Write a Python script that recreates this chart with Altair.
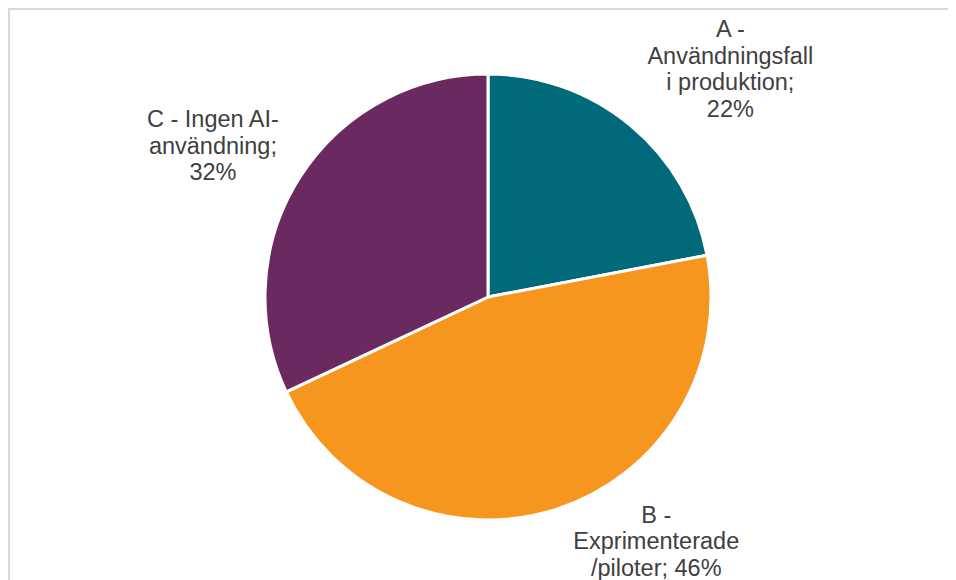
import altair as alt
import pandas as pd

categories = ["A - Användningsfall i produktion", "B - Exprimenterade /piloter", "C - Ingen AI-användning"]
values = [22, 46, 32]
label_texts = ["A -\nAnvändningsfall\ni produktion;\n22%",
               "B -\nExprimenterade\n/piloter; 46%",
               "C - Ingen AI-\nanvändning;\n32%"]
colors = ["#00697A", "#F7961E", "#6B2A5F"]

df = pd.DataFrame({"category": categories, "value": values, "label": label_texts,
                   "order": [0, 1, 2]})

W, H = 940, 572
CX, CY = 480, 289

pie = alt.Chart(df).mark_arc(outerRadius=223, stroke="white", strokeWidth=3).encode(
    theta=alt.Theta("value:Q", stack=True),
    order=alt.Order("order:Q"),
    color=alt.Color("category:N", scale=alt.Scale(domain=categories, range=colors), legend=None),
    x=alt.value(CX), y=alt.value(CY),
)

label_base = alt.Chart(df).transform_window(
    cum="sum(value)", sort=[alt.SortField("order")], frame=[None, 0]
).transform_calculate(mid="datum.cum - datum.value / 2")

offsets = {categories[0]: (83, -74), categories[1]: (91, -19), categories[2]: (-64, -43)}
label_layers = []
for cat in categories:
    dx, dy = offsets[cat]
    label_layers.append(
        label_base.transform_filter(alt.datum.category == cat)
        .mark_text(radius=250, font="Liberation Sans", fontSize=23.5, color="#404040",
                   lineBreak="\n", lineHeight=26.5, align="center", baseline="middle",
                   dx=dx, dy=dy)
        .encode(theta=alt.Theta("mid:Q", stack=None, scale=alt.Scale(domain=[0, 100])),
                text="label:N", x=alt.value(CX), y=alt.value(CY))
    )

border_top = alt.Chart(df).mark_rule(color="#D9D9D9", strokeWidth=2).encode(
    x=alt.value(0), x2=alt.value(W), y=alt.value(1))
border_left = alt.Chart(df).mark_rule(color="#D9D9D9", strokeWidth=2).encode(
    x=alt.value(1), y=alt.value(0), y2=alt.value(H))

chart = alt.layer(border_top, border_left, pie, *label_layers).properties(
    width=W, height=H, padding=0, autosize=alt.AutoSizeParams(type="none")
).configure_view(stroke=None)

chart.save("out.html", embed_options={"renderer": "svg", "actions": False})
